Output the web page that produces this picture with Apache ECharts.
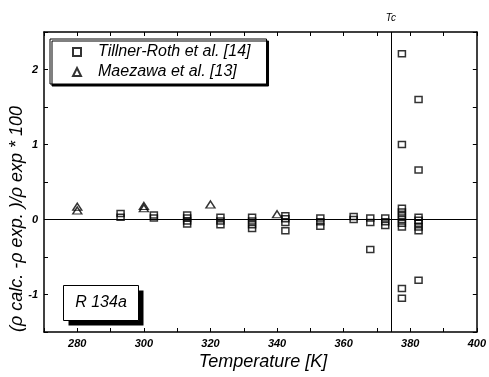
<!DOCTYPE html>
<html>
<head>
<meta charset="utf-8">
<script src="https://cdn.jsdelivr.net/npm/echarts@6/dist/echarts.min.js"></script>
<style>
  html, body { margin: 0; padding: 0; background: #fff; }
  #chart { width: 489px; height: 377px; }
</style>
</head>
<body>
<div id="chart"></div>
<script>
// Density deviations for R 134a, (rho_calc - rho_exp)/rho_exp * 100
const tillnerTemp = [
  293, 293,
  303, 303,
  313, 313, 313, 313,
  323, 323, 323,
  332.5, 332.5, 332.5, 332.5,
  342.5, 342.5, 342.5, 342.5,
  353, 353, 353,
  363, 363,
  368, 368, 368,
  372.5, 372.5, 372.5,
  377.5, 377.5, 377.5, 377.5, 377.5, 377.5, 377.5, 377.5, 377.5, 377.5,
  382.5, 382.5, 382.5, 382.5, 382.5, 382.5, 382.5, 382.5
];
const tillnerDev = [
  0.08, 0.03,
  0.06, 0.02,
  0.06, 0.02, -0.02, -0.06,
  0.03, -0.02, -0.07,
  0.03, -0.02, -0.07, -0.12,
  0.05, 0.01, -0.04, -0.15,
  0.02, -0.03, -0.09,
  0.04, 0.0,
  0.02, -0.04, -0.40,
  0.02, -0.03, -0.08,
  2.21, 1.00, 0.15, 0.10, 0.05, 0.0, -0.05, -0.10, -0.92, -1.05,
  1.60, 0.66, 0.03, -0.01, -0.05, -0.10, -0.15, -0.81
];
const maezawaTemp = [280, 280, 300, 300, 320, 340];
const maezawaDev = [0.17, 0.12, 0.18, 0.15, 0.20, 0.07];

const criticalTemp = 374.2;
const seriesNames = ['Tillner-Roth et al. [14]', 'Maezawa et al. [13]'];
const xTickLabels = [280, 300, 320, 340, 360, 380, 400];
const yTickLabels = [-1, 0, 1, 2];

const pairs = (xs, ys) => xs.map((x, i) => [x, ys[i]]);

const labelFont = {
  fontFamily: 'Liberation Sans Narrow, Liberation Sans, Arial, sans-serif',
  fontStyle: 'italic',
  fontWeight: 'bold',
  color: '#000'
};

function xAxisDef(pos, showLabels) {
  return {
    type: 'value', position: pos, min: 270, max: 400, interval: 10,
    axisLine: { show: true, onZero: false, lineStyle: { color: '#000', width: 1.5 } },
    axisTick: { show: true, inside: true, length: 4, lineStyle: { color: '#000', width: 1 } },
    splitLine: { show: false },
    axisLabel: {
      show: showLabels, margin: 6, fontSize: 11, ...labelFont,
      formatter: v => xTickLabels.includes(v) ? String(v) : ''
    }
  };
}
function yAxisDef(pos, showLabels) {
  return {
    type: 'value', position: pos, min: -1.5, max: 2.5, interval: 0.5,
    axisLine: { show: true, onZero: false, lineStyle: { color: '#000', width: 1.5 } },
    axisTick: { show: true, inside: true, length: 4, lineStyle: { color: '#000', width: 1 } },
    splitLine: { show: false },
    axisLabel: {
      show: showLabels, margin: 6, fontSize: 11, ...labelFont,
      formatter: v => yTickLabels.includes(v) ? String(v) : ''
    }
  };
}

const chart = echarts.init(document.getElementById('chart'), null, { renderer: 'canvas' });

chart.setOption({
  animation: false,
  backgroundColor: '#fff',
  grid: { left: 44, top: 32, right: 8, bottom: 45, containLabel: false },
  xAxis: [xAxisDef('bottom', true), xAxisDef('top', false)],
  yAxis: [yAxisDef('left', true), yAxisDef('right', false)],
  legend: {
    orient: 'vertical',
    left: 50, top: 39,
    padding: [5, 16, 4, 22],
    itemGap: 4,
    itemWidth: 8, itemHeight: 8,
    backgroundColor: '#fff',
    borderColor: '#000', borderWidth: 1,
    shadowColor: '#000', shadowBlur: 0, shadowOffsetX: 2, shadowOffsetY: 2,
    textStyle: {
      fontFamily: 'Liberation Sans, Arial, sans-serif',
      fontStyle: 'italic', fontSize: 16, color: '#000',
      padding: [0, 0, 0, 12]
    },
    data: seriesNames
  },
  series: [
    {
      name: seriesNames[0], type: 'scatter',
      symbol: 'rect', symbolSize: [7, 6],
      itemStyle: { color: 'rgba(0,0,0,0)', borderColor: '#000', borderWidth: 1.4 },
      data: pairs(tillnerTemp, tillnerDev),
      markLine: {
        silent: true, symbol: 'none',
        lineStyle: { color: '#000', width: 1, type: 'solid' },
        label: { show: false },
        data: [
          { yAxis: 0 },
          {
            xAxis: criticalTemp,
            label: {
              show: true, position: 'end', formatter: 'Tc', distance: 9,
              fontFamily: 'Liberation Sans, Arial, sans-serif',
              fontStyle: 'italic', fontSize: 10, color: '#000'
            }
          }
        ]
      }
    },
    {
      name: seriesNames[1], type: 'scatter',
      symbol: 'triangle', symbolSize: [9, 7],
      itemStyle: { color: 'rgba(0,0,0,0)', borderColor: '#000', borderWidth: 1.4 },
      data: pairs(maezawaTemp, maezawaDev)
    }
  ],
  graphic: [
    {
      type: 'text', x: 263, y: 362,
      style: {
        text: 'Temperature [K]',
        font: 'italic 18px "Liberation Sans", Arial, sans-serif',
        fill: '#000', align: 'center', verticalAlign: 'middle'
      }
    },
    {
      type: 'text', x: 17, y: 219, rotation: Math.PI / 2,
      style: {
        text: '(ρ calc. -ρ exp. )/ρ exp * 100',
        font: 'italic 18px "Liberation Sans", Arial, sans-serif',
        fill: '#000', align: 'center', verticalAlign: 'middle'
      }
    },
    {
      type: 'group', left: 63, top: 285,
      children: [
        { type: 'rect', shape: { x: 5, y: 5, width: 75, height: 35 }, style: { fill: '#000' } },
        { type: 'rect', shape: { x: 0, y: 0, width: 75, height: 35 }, style: { fill: '#fff', stroke: '#000', lineWidth: 1 } },
        {
          type: 'text', x: 37.5, y: 17.5,
          style: {
            text: 'R 134a', font: 'italic 16px "Liberation Sans", Arial, sans-serif',
            fill: '#000', align: 'center', verticalAlign: 'middle'
          }
        }
      ]
    }
  ]
});
</script>
</body>
</html>
